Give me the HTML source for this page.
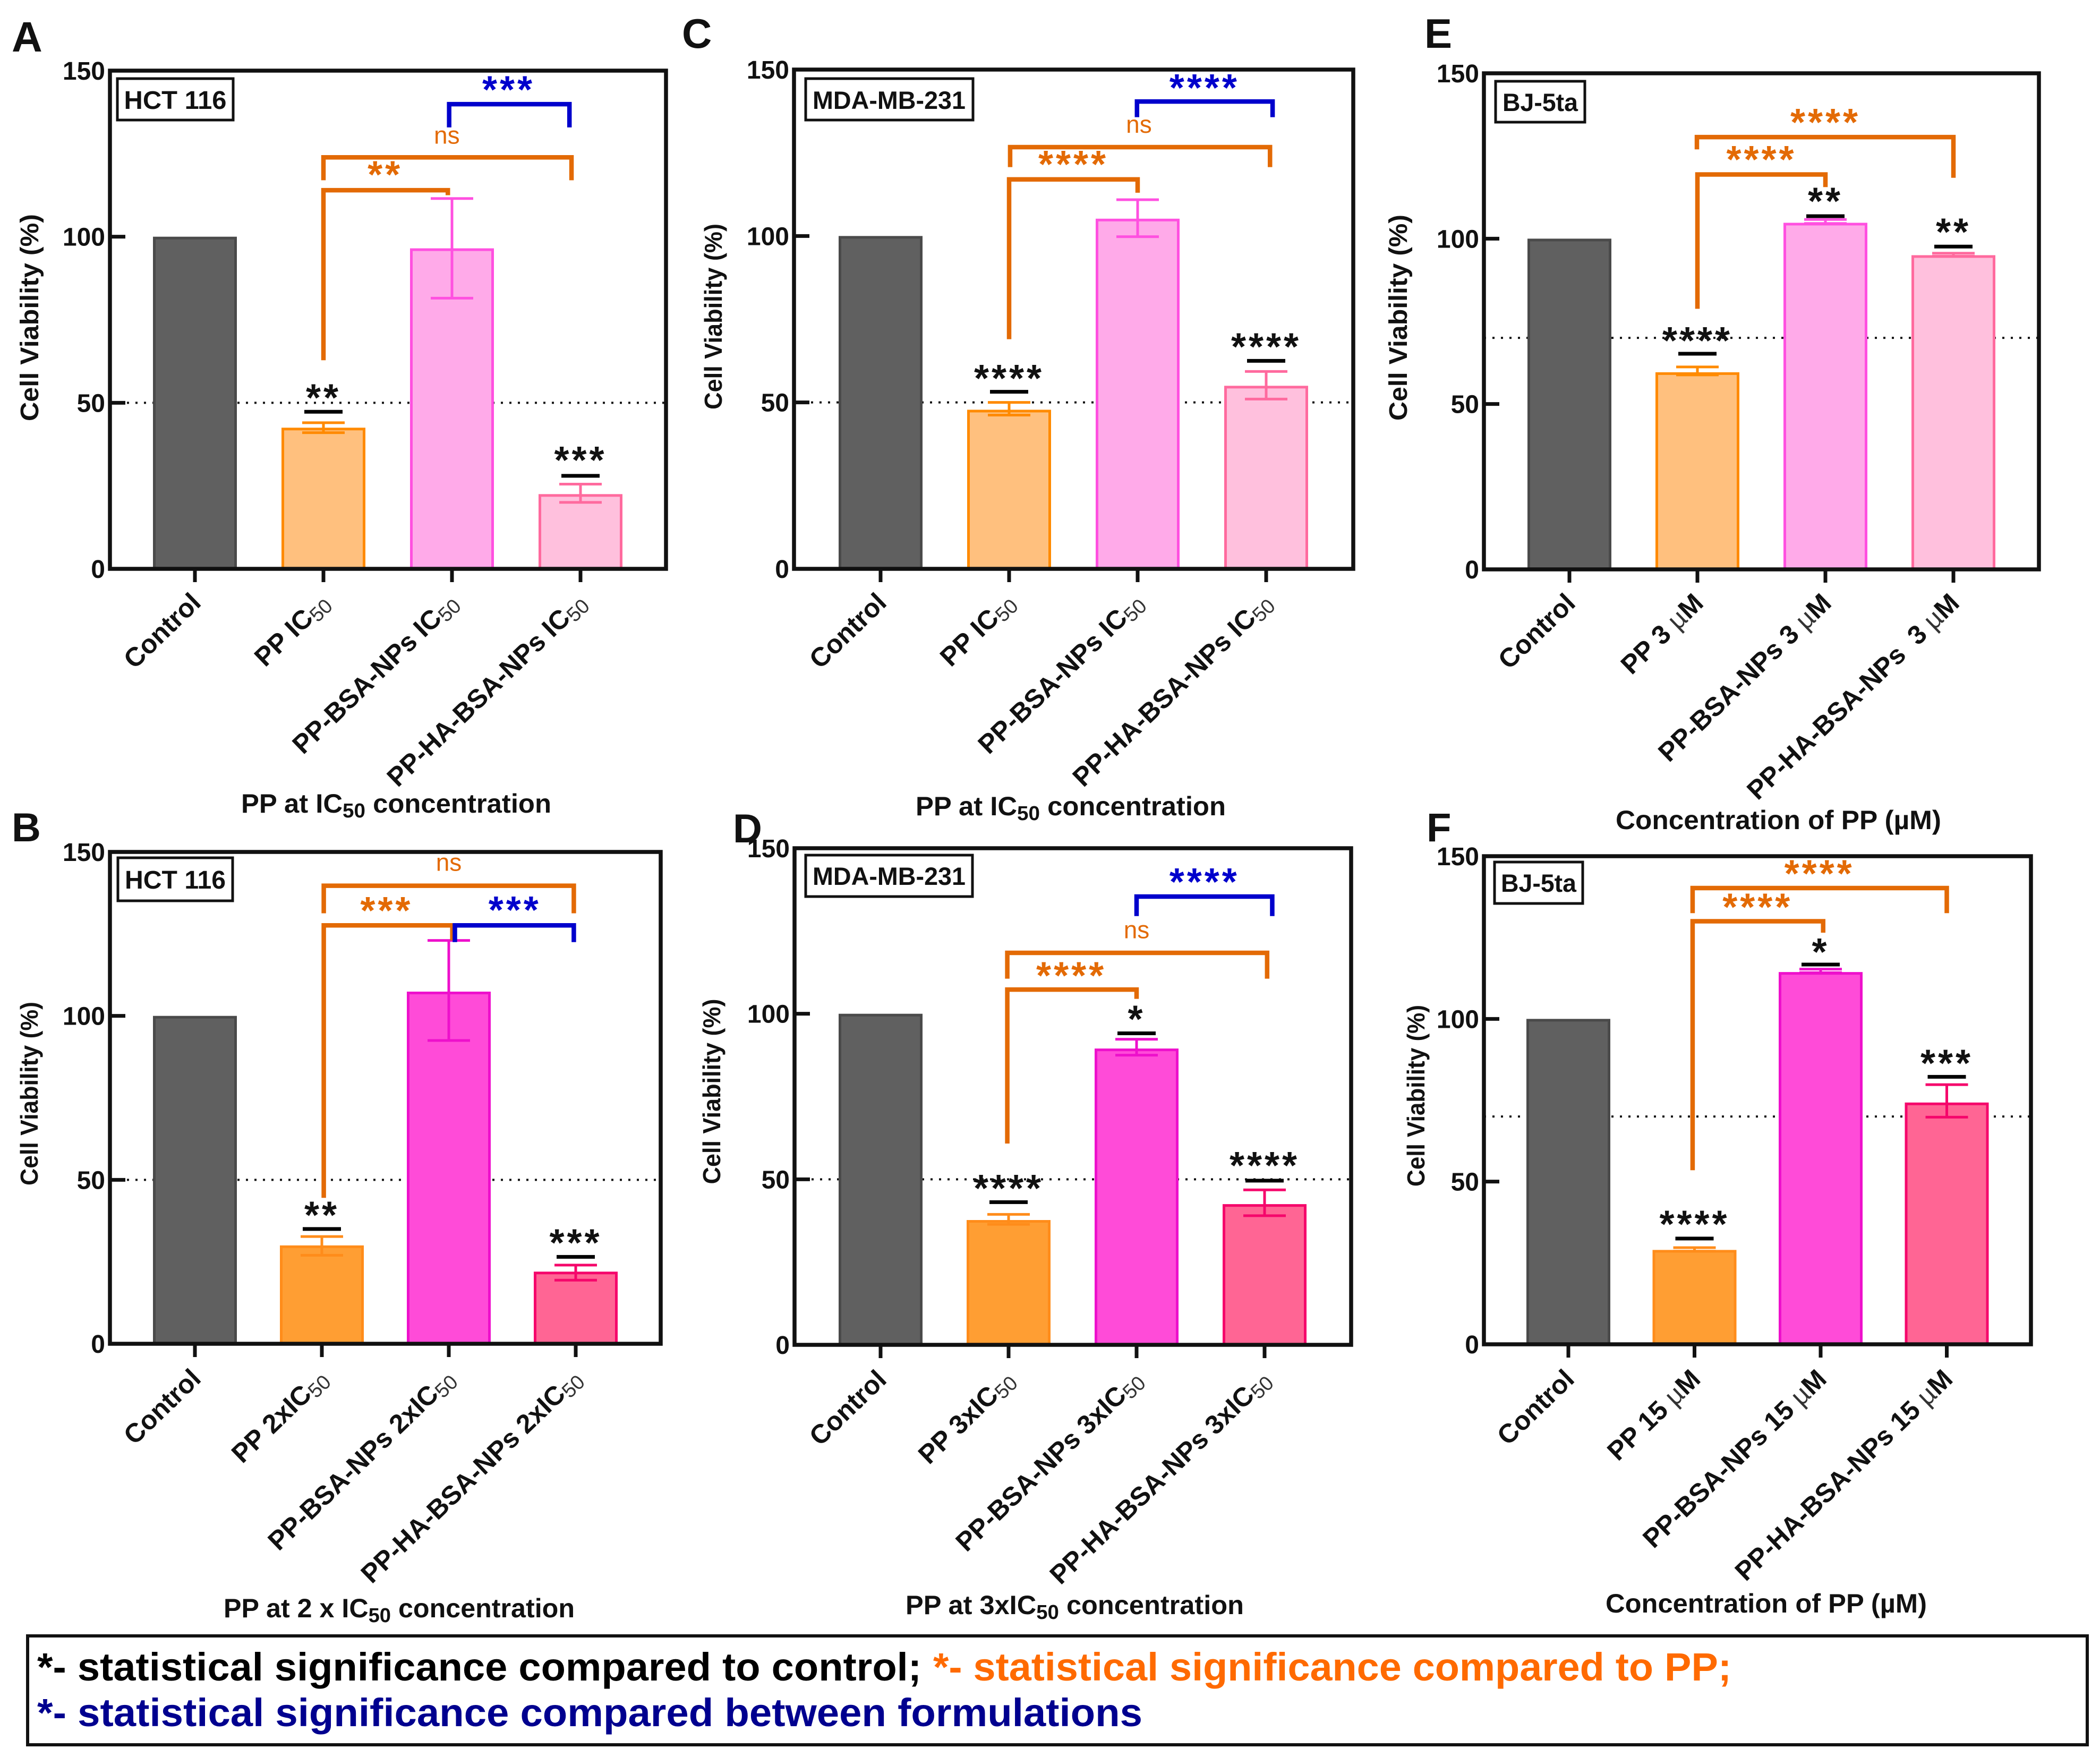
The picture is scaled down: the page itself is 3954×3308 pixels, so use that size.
<!DOCTYPE html>
<html lang="en">
<head>
<meta charset="utf-8">
<title>Cell viability panels</title>
<style>
html,body{margin:0;padding:0;background:#fff;}
svg{display:block;}
text{font-family:"Liberation Sans",Arial,sans-serif;white-space:pre;}
.b{font-weight:bold;fill:#111;}
</style>
</head>
<body>
<svg id="figure" xmlns="http://www.w3.org/2000/svg" width="3954" height="3308" viewBox="0 0 3954 3308">
<rect width="3954" height="3308" fill="#fff"/>
<g id="panel-a"></g>
<g id="panel-b"></g>
<g id="panel-c"></g>
<g id="panel-d"></g>
<g id="panel-e"></g>
<g id="panel-f"></g>

<text class="b" x="22" y="97" font-size="80">A</text>
<text class="b" x="22" y="1584" font-size="76">B</text>
<text class="b" x="1284" y="90" font-size="78">C</text>
<text class="b" x="1380" y="1586" font-size="76">D</text>
<text class="b" x="2682" y="90" font-size="78">E</text>
<text class="b" x="2686" y="1584" font-size="76">F</text>

<text class="b" transform="translate(72,598) rotate(-90)" text-anchor="middle" font-size="48" textLength="390" lengthAdjust="spacingAndGlyphs">Cell Viability (%)</text>
<text class="b" transform="translate(1359,596) rotate(-90)" text-anchor="middle" font-size="46" textLength="350" lengthAdjust="spacingAndGlyphs">Cell Viability (%)</text>
<text class="b" transform="translate(2649,598) rotate(-90)" text-anchor="middle" font-size="48" textLength="388" lengthAdjust="spacingAndGlyphs">Cell Viability (%)</text>
<text class="b" transform="translate(71,2059) rotate(-90)" text-anchor="middle" font-size="46" textLength="346" lengthAdjust="spacingAndGlyphs">Cell Viability (%)</text>
<text class="b" transform="translate(1356,2055) rotate(-90)" text-anchor="middle" font-size="46" textLength="349" lengthAdjust="spacingAndGlyphs">Cell Viability (%)</text>
<text class="b" transform="translate(2682,2063) rotate(-90)" text-anchor="middle" font-size="46" textLength="342" lengthAdjust="spacingAndGlyphs">Cell Viability (%)</text>

<text class="b" x="454" y="1530" font-size="50" textLength="584" lengthAdjust="spacingAndGlyphs">PP at IC<tspan font-size="38" dy="9">50</tspan><tspan dy="-9"> concentration</tspan></text>
<text class="b" x="1724" y="1535" font-size="50" textLength="584" lengthAdjust="spacingAndGlyphs">PP at IC<tspan font-size="38" dy="9">50</tspan><tspan dy="-9"> concentration</tspan></text>
<text class="b" x="3042" y="1561" font-size="50" textLength="613" lengthAdjust="spacingAndGlyphs">Concentration of PP (µM)</text>
<text class="b" x="421" y="3045" font-size="50" textLength="661" lengthAdjust="spacingAndGlyphs">PP at 2 x IC<tspan font-size="38" dy="9">50</tspan><tspan dy="-9"> concentration</tspan></text>
<text class="b" x="1705" y="3039" font-size="50" textLength="637" lengthAdjust="spacingAndGlyphs">PP at 3xIC<tspan font-size="38" dy="9">50</tspan><tspan dy="-9"> concentration</tspan></text>
<text class="b" x="3023" y="3036" font-size="50" textLength="605" lengthAdjust="spacingAndGlyphs">Concentration of PP (µM)</text>

<g><rect x="221" y="148" width="218" height="78" fill="#fff" stroke="#111" stroke-width="5"/><text class="b" x="330" y="205" text-anchor="middle" font-size="48" textLength="193" lengthAdjust="spacingAndGlyphs">HCT 116</text></g>
<g><rect x="1517" y="148" width="315" height="78" fill="#fff" stroke="#111" stroke-width="5"/><text class="b" x="1674" y="205" text-anchor="middle" font-size="47" textLength="288" lengthAdjust="spacingAndGlyphs">MDA-MB-231</text></g>
<g><rect x="2816" y="153" width="168" height="77" fill="#fff" stroke="#111" stroke-width="5"/><text class="b" x="2900" y="209" text-anchor="middle" font-size="47" textLength="142" lengthAdjust="spacingAndGlyphs">BJ-5ta</text></g>
<g><rect x="222" y="1615" width="216" height="81" fill="#fff" stroke="#111" stroke-width="5"/><text class="b" x="330" y="1673" text-anchor="middle" font-size="48" textLength="190" lengthAdjust="spacingAndGlyphs">HCT 116</text></g>
<g><rect x="1517" y="1610" width="314" height="78" fill="#fff" stroke="#111" stroke-width="5"/><text class="b" x="1674" y="1666" text-anchor="middle" font-size="47" textLength="288" lengthAdjust="spacingAndGlyphs">MDA-MB-231</text></g>
<g><rect x="2814" y="1623" width="166" height="78" fill="#fff" stroke="#111" stroke-width="5"/><text class="b" x="2897" y="1679" text-anchor="middle" font-size="47" textLength="142" lengthAdjust="spacingAndGlyphs">BJ-5ta</text></g>

<g>
<rect x="52" y="3080" width="3878" height="205" fill="#fff" stroke="#111" stroke-width="6"/>
<text x="70" y="3164" font-size="74" font-weight="bold" fill="#000" textLength="1665" lengthAdjust="spacingAndGlyphs">*- statistical significance compared to control;</text>
<text x="1757" y="3164" font-size="74" font-weight="bold" fill="#ff6a00" textLength="1503" lengthAdjust="spacingAndGlyphs">*- statistical significance compared to PP;</text>
<text x="70" y="3250" font-size="74" font-weight="bold" fill="#00008f" textLength="2081" lengthAdjust="spacingAndGlyphs">*- statistical significance compared between formulations</text>
</g>
</svg>

<script>
// ---- shared axis data ----
const yTicks = [0, 50, 100, 150];

// ---- panel A ----
const categoriesA = ["Control", "PP IC50", "PP-BSA-NPs IC50", "PP-HA-BSA-NPs IC50"];
const valuesA = [100, 42.5, 96.5, 22.5];
const errLowA = [null, 41, 81.5, 20];
const errHighA = [null, 44, 111.5, 25.5];
const sigLevelA = [null, 47.3, null, 28];
const sigStarsA = ["", "**", "", "***"];
const starLevelA = [null, 53, null, 34.2];
const bracketsA = [
  {from: 1.978, to: 2.914, level: 139.9, dropL: 132.9, dropR: 132.9, color: "blue"},
  {from: 1.0, to: 2.93, level: 123.9, dropL: 117, dropR: 117, color: "orange"},
  {from: 1.0, to: 1.968, level: 114, dropL: 62.8, dropR: 112.5, color: "orange"}
];
const notesA = [
  {at: 2.44, level: 145.8, label: "***", color: "blue"},
  {at: 1.96, level: 130.4, label: "ns", color: "orange"},
  {at: 1.48, level: 120.2, label: "**", color: "orange"}
];

// ---- panel B ----
const categoriesB = ["Control", "PP 2xIC50", "PP-BSA-NPs 2xIC50", "PP-HA-BSA-NPs 2xIC50"];
const valuesB = [100, 30, 107.4, 22];
const errLowB = [null, 27, 92.5, 19.4];
const errHighB = [null, 32.7, 123, 24];
const sigLevelB = [null, 35, null, 26.5];
const sigStarsB = ["", "**", "", "***"];
const starLevelB = [null, 40.7, null, 32.3];
const bracketsB = [
  {from: 1.015, to: 2.985, level: 139.7, dropL: 131.3, dropR: 131.3, color: "orange"},
  {from: 1.015, to: 2.028, level: 127.6, dropL: 44.5, dropR: 123, color: "orange"},
  {from: 2.048, to: 2.985, level: 127.6, dropL: 122.5, dropR: 122.5, color: "blue"}
];
const notesB = [
  {at: 2.0, level: 146.7, label: "ns", color: "orange"},
  {at: 1.51, level: 133.6, label: "***", color: "orange"},
  {at: 2.52, level: 133.8, label: "***", color: "blue"}
];

// ---- panel C ----
const categoriesC = ["Control", "PP IC50", "PP-BSA-NPs IC50", "PP-HA-BSA-NPs IC50"];
const valuesC = [100, 47.8, 105.2, 55];
const errLowC = [null, 46.2, 99.8, 51];
const errHighC = [null, 50, 110.9, 59.3];
const sigLevelC = [null, 53.2, null, 62.5];
const sigStarsC = ["", "****", "", "****"];
const starLevelC = [null, 58.7, null, 68.2];
const bracketsC = [
  {from: 1.995, to: 3.05, level: 140.4, dropL: 135.7, dropR: 135.7, color: "blue"},
  {from: 1.008, to: 3.03, level: 126.7, dropL: 120.7, dropR: 120.7, color: "orange"},
  {from: 1.0, to: 2.0, level: 117, dropL: 69, dropR: 113, color: "orange"}
];
const notesC = [
  {at: 2.52, level: 146, label: "****", color: "blue"},
  {at: 2.01, level: 133.4, label: "ns", color: "orange"},
  {at: 1.5, level: 123, label: "****", color: "orange"}
];

// ---- panel D ----
const categoriesD = ["Control", "PP 3xIC50", "PP-BSA-NPs 3xIC50", "PP-HA-BSA-NPs 3xIC50"];
const valuesD = [100, 37.7, 89.5, 42.5];
const errLowD = [null, 36.4, 87.5, 39];
const errHighD = [null, 39.4, 92.3, 46.8];
const sigLevelD = [null, 43.1, 94.1, 49.6];
const sigStarsD = ["", "****", "*", "****"];
const starLevelD = [null, 48.8, 99.9, 55.7];
const bracketsD = [
  {from: 2.0, to: 3.06, level: 135.4, dropL: 129.5, dropR: 129.5, color: "blue"},
  {from: 0.99, to: 3.02, level: 118.4, dropL: 110.6, dropR: 110.6, color: "orange"},
  {from: 0.99, to: 2.0, level: 107.3, dropL: 60.8, dropR: 104.5, color: "orange"}
];
const notesD = [
  {at: 2.53, level: 141.3, label: "****", color: "blue"},
  {at: 2.0, level: 125.2, label: "ns", color: "orange"},
  {at: 1.49, level: 113, label: "****", color: "orange"}
];

// ---- panel E ----
const categoriesE = ["Control", "PP 3 µM", "PP-BSA-NPs 3 µM", "PP-HA-BSA-NPs  3 µM"];
const valuesE = [100, 59.6, 104.8, 95];
const errLowE = [null, 58.8, 104.6, 94.7];
const errHighE = [null, 61.2, 105.8, 95.6];
const sigLevelE = [null, 65.2, 106.8, 97.6];
const sigStarsE = ["", "****", "**", "**"];
const starLevelE = [null, 70.7, 112.8, 103.5];
const bracketsE = [
  {from: 0.996, to: 3.0, level: 130.7, dropL: 127, dropR: 118.4, color: "orange"},
  {from: 1.0, to: 2.0, level: 119.4, dropL: 78.8, dropR: 115.6, color: "orange"}
];
const notesE = [
  {at: 2.0, level: 136.7, label: "****", color: "orange"},
  {at: 1.5, level: 125.4, label: "****", color: "orange"}
];

// ---- panel F ----
const categoriesF = ["Control", "PP 15 µM", "PP-BSA-NPs 15 µM", "PP-HA-BSA-NPs 15 µM"];
const valuesF = [100, 29, 114.4, 74.3];
const errLowF = [null, 28.6, 114.2, 69.8];
const errHighF = [null, 29.7, 115.3, 79.8];
const sigLevelF = [null, 32.5, 116.7, 82.2];
const sigStarsF = ["", "****", "*", "***"];
const starLevelF = [null, 38.4, 122.1, 87.9];
const bracketsF = [
  {from: 0.985, to: 3.0, level: 140.2, dropL: 132.5, dropR: 132.5, color: "orange"},
  {from: 0.985, to: 2.02, level: 130, dropL: 53.5, dropR: 126.5, color: "orange"}
];
const notesF = [
  {at: 1.99, level: 146.2, label: "****", color: "orange"},
  {at: 1.5, level: 135.9, label: "****", color: "orange"}
];

const lightFills = ["#606060", "#ffc07e", "#ffaae9", "#ffc0dd"];
const lightStrokes = ["#4a4a4a", "#ff8a00", "#ff50e0", "#ff6a9e"];
const strongFills = ["#606060", "#ff9e33", "#ff4bd8", "#ff6594"];
const strongStrokes = ["#4a4a4a", "#ff8c1a", "#ee10cc", "#f5066b"];
const markColors = {orange: "#e36a05", blue: "#0000cc"};

const panels = [
  {id: "panel-a", cats: categoriesA, vals: valuesA, low: errLowA, high: errHighA, sig: sigLevelA, stars: sigStarsA, starAt: starLevelA, brackets: bracketsA, notes: notesA, left: 207, right: 1254, top: 133, bottom: 1071, first: 367, step: 242, ref: 50, fills: lightFills, strokes: lightStrokes, labelDy: 67},
  {id: "panel-b", cats: categoriesB, vals: valuesB, low: errLowB, high: errHighB, sig: sigLevelB, stars: sigStarsB, starAt: starLevelB, brackets: bracketsB, notes: notesB, left: 207, right: 1244, top: 1604, bottom: 2530, first: 367, step: 239, ref: 50, fills: strongFills, strokes: strongStrokes, labelDy: 69},
  {id: "panel-c", cats: categoriesC, vals: valuesC, low: errLowC, high: errHighC, sig: sigLevelC, stars: sigStarsC, starAt: starLevelC, brackets: bracketsC, notes: notesC, left: 1495, right: 2548, top: 131, bottom: 1071, first: 1658, step: 242, ref: 50, fills: lightFills, strokes: lightStrokes, labelDy: 67},
  {id: "panel-d", cats: categoriesD, vals: valuesD, low: errLowD, high: errHighD, sig: sigLevelD, stars: sigStarsD, starAt: starLevelD, brackets: bracketsD, notes: notesD, left: 1496, right: 2544, top: 1597, bottom: 2532, first: 1658, step: 241, ref: 50, fills: strongFills, strokes: strongStrokes, labelDy: 69},
  {id: "panel-e", cats: categoriesE, vals: valuesE, low: errLowE, high: errHighE, sig: sigLevelE, stars: sigStarsE, starAt: starLevelE, brackets: bracketsE, notes: notesE, left: 2794, right: 3839, top: 138, bottom: 1072, first: 2955, step: 241, ref: 70, fills: lightFills, strokes: lightStrokes, labelDy: 67},
  {id: "panel-f", cats: categoriesF, vals: valuesF, low: errLowF, high: errHighF, sig: sigLevelF, stars: sigStarsF, starAt: starLevelF, brackets: bracketsF, notes: notesF, left: 2794, right: 3824, top: 1612, bottom: 2531, first: 2953, step: 237.5, ref: 70, fills: strongFills, strokes: strongStrokes, labelDy: 69}
];

const NS = "http://www.w3.org/2000/svg";
function mk(tag, parent, attrs, content) {
  const node = document.createElementNS(NS, tag);
  for (const k in attrs) node.setAttribute(k, attrs[k]);
  if (content !== undefined) node.textContent = content;
  parent.appendChild(node);
  return node;
}

function drawPanel(p) {
  const g = document.getElementById(p.id);
  const xScale = i => p.first + i * p.step;
  const yScale = v => p.bottom - (v / 150) * (p.bottom - p.top);
  const line = (parent, x1, y1, x2, y2, color, w, extra) => mk("line", parent, Object.assign({x1, y1, x2, y2, stroke: color, "stroke-width": w}, extra || {}));

  const ref = line(g, p.left, yScale(p.ref), p.right, yScale(p.ref), "#111", 4, {"stroke-dasharray": "4 12"});
  
  

  p.vals.forEach((v, i) => {
    const cx = xScale(i);
    const top = yScale(v) + 2.5;
    const bar = mk("rect", g, {x: cx - 76.5, y: top, width: 153, height: p.bottom - top, fill: p.fills[i], stroke: p.strokes[i], "stroke-width": 5});
    
    

    if (p.low[i] !== null) {
      const yl = yScale(p.low[i]);
      const yh = yScale(p.high[i]);
      const eb = mk("g", g, {stroke: p.strokes[i], "stroke-width": 5});
      
      
      line(eb, cx, yl, cx, yh, p.strokes[i], 5);
      line(eb, cx - 40, yl, cx + 40, yl, p.strokes[i], 5);
      line(eb, cx - 40, yh, cx + 40, yh, p.strokes[i], 5);
    }
    if (p.sig[i] !== null) {
      const sigLine = line(g, cx - 36, yScale(p.sig[i]), cx + 36, yScale(p.sig[i]), "#000", 7);
      
      
      const stars = mk("text", g, {x: cx, y: yScale(p.starAt[i]) + 34, "text-anchor": "middle", "font-size": 72, "font-weight": "bold", "letter-spacing": 5, fill: "#111"}, p.stars[i]);
      
      
    }

    const tick = line(g, cx, p.bottom, cx, p.bottom + 25, "#111", 7);
    
    

    const raw = p.cats[i];
    const label = mk("text", g, {transform: "translate(" + (cx + 14) + "," + (p.bottom + p.labelDy) + ") rotate(-44)", "text-anchor": "end", "font-size": 50, "font-weight": "bold", fill: "#111"});
    
    
    if (/50$/.test(raw)) {
      mk("tspan", label, {}, raw.slice(0, -2));
      mk("tspan", label, {"font-size": 38, "font-weight": "normal", dy: 8, fill: "#333"}, "50");
    } else if (/µM$/.test(raw)) {
      mk("tspan", label, {}, raw.slice(0, -2));
      mk("tspan", label, {"font-weight": "normal", fill: "#333"}, "µ");
      mk("tspan", label, {}, "M");
    } else {
      label.textContent = raw;
    }
  });

  yTicks.forEach(t => {
    const y = yScale(t);
    const yt = line(g, p.left, y, p.left + 29, y, "#111", 7);
    
    
    const lab = mk("text", g, {x: p.left - 9, y: y + 17, "text-anchor": "end", "font-size": 48, "font-weight": "bold", fill: "#111"}, String(t));
    
    
  });

  p.brackets.forEach(b => {
    const x1 = xScale(b.from);
    const x2 = xScale(b.to);
    const pts = [x1, yScale(b.dropL), x1, yScale(b.level), x2, yScale(b.level), x2, yScale(b.dropR)].join(" ");
    const br = mk("polyline", g, {points: pts, fill: "none", stroke: markColors[b.color], "stroke-width": 8.5, "stroke-linejoin": "miter"});
    
    
  });

  p.notes.forEach(n => {
    const isNs = n.label === "ns";
    const note = mk("text", g, {
      x: xScale(n.at),
      y: yScale(n.level) + (isNs ? 15 : 34),
      "text-anchor": "middle",
      "font-size": isNs ? 46 : 72,
      "font-weight": isNs ? "normal" : "bold",
      "letter-spacing": isNs ? 0 : 5,
      fill: markColors[n.color]
    }, n.label);
    
    
  });

  const frame = mk("rect", g, {x: p.left, y: p.top, width: p.right - p.left, height: p.bottom - p.top, fill: "none", stroke: "#111", "stroke-width": 7.5});
  
  
}

panels.forEach(drawPanel);
</script>
</body>
</html>
